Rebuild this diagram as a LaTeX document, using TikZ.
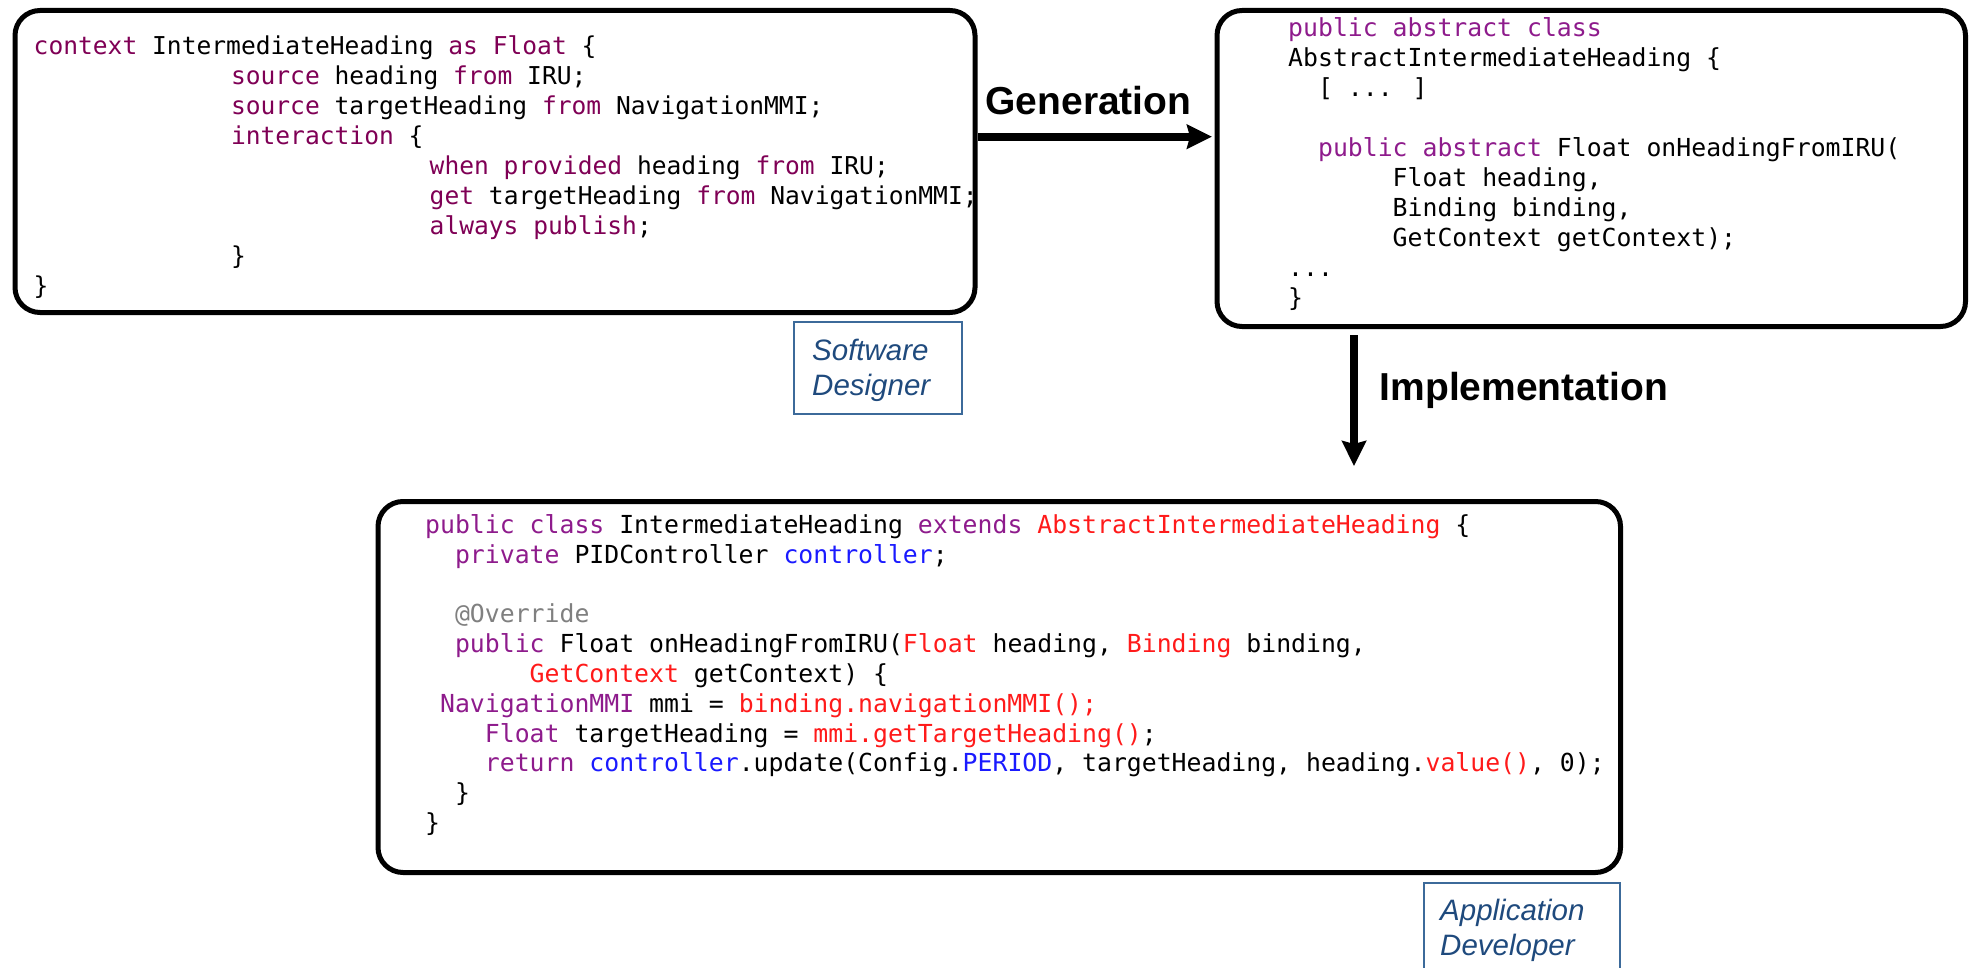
\documentclass[tikz,border=0pt]{standalone}
\usepackage{fontspec}
\setmainfont{Liberation Sans}
\newfontfamily\codefont{DejaVu Sans Mono}
\usetikzlibrary{arrows.meta}

\definecolor{kwctx}{HTML}{7F0055}
\definecolor{kwjava}{HTML}{8E1B8C}
\definecolor{jred}{HTML}{FF1A1A}
\definecolor{jblue}{HTML}{1A1AFF}
\definecolor{jgray}{HTML}{808080}
\definecolor{roleline}{HTML}{3C6A9A}
\definecolor{roletext}{HTML}{1F4A7D}

% monospaced code: one \codeln per line, fixed line pitch
\newlength\chw
\newcommand\ind[1]{\hspace*{#1\chw}}
\newcommand\codeblock[3]{\vtop{\codefont\fontsize{#1}{#2}\selectfont
  \settowidth\chw{x}\baselineskip=#2\lineskiplimit=-1000pt\lineskip=0pt #3}}
\newcommand\codeln[1]{\hbox{#1}}
\newcommand\kc[1]{\textcolor{kwctx}{#1}}
\newcommand\kj[1]{\textcolor{kwjava}{#1}}
\newcommand\jr[1]{\textcolor{jred}{#1}}
\newcommand\jb[1]{\textcolor{jblue}{#1}}
\newcommand\jg[1]{\textcolor{jgray}{#1}}
\newcommand\twolines[2]{\vtop{\baselineskip=35pt\hbox{#1}\hbox{#2}}}

\begin{document}
\begin{tikzpicture}[x=1pt,y=-1pt,
  codebox/.style={draw, line width=5pt, rounded corners=25pt, inner sep=0pt, anchor=north west},
  code/.style={inner sep=0pt, anchor=base west},
  rolebox/.style={draw=roleline, line width=2.2pt, inner sep=0pt, anchor=north west},
  roletxt/.style={text=roletext, font=\itshape\fontsize{29.5pt}{35pt}\selectfont, inner sep=0pt, anchor=base west},
  steplabel/.style={font=\bfseries\fontsize{39pt}{41pt}\selectfont, inner sep=0pt},
  flow/.style={line width=8pt, -{Stealth[length=25pt, width=24pt, inset=3pt]}}]
\useasboundingbox (0,0) rectangle (1975,968);
\clip (0,0) rectangle (1975,968);

% frames
\node[codebox, minimum width=960, minimum height=302] (b1) at (12.5,8) {};
\node[codebox, minimum width=748.5, minimum height=316] (b2) at (1214.5,8) {};
\node[codebox, minimum width=1242.5, minimum height=371] (b3) at (375.5,499) {};

% context definition
\node[code] (c1) at (33.5,55) {\codeblock{24.6pt}{30pt}{%
\codeln{\kc{context} IntermediateHeading \kc{as Float} \{}
\codeln{\hspace*{197.3pt}\kc{source} heading \kc{from} IRU;}
\codeln{\hspace*{197.3pt}\kc{source} targetHeading \kc{from} NavigationMMI;}
\codeln{\hspace*{197.3pt}\kc{interaction} \{}
\codeln{\hspace*{396pt}\kc{when provided} heading \kc{from} IRU;}
\codeln{\hspace*{396pt}\kc{get} targetHeading \kc{from} NavigationMMI;}
\codeln{\hspace*{396pt}\kc{always publish};}
\codeln{\hspace*{197.3pt}\}}
\codeln{\}}}};

% generated abstract class
\node[code] (c2) at (1288,36.5) {\codeblock{24.8pt}{30pt}{%
\codeln{\kj{public abstract class}}
\codeln{AbstractIntermediateHeading \{}
\codeln{\ind{2}[ ... ]}
\codeln{}
\codeln{\ind{2}\kj{public abstract} Float onHeadingFromIRU(}
\codeln{\ind{7}Float heading,}
\codeln{\ind{7}Binding binding,}
\codeln{\ind{7}GetContext getContext);}
\codeln{...}
\codeln{\}}}};

% hand-written implementation
\node[code] (c3) at (425,533.5) {\codeblock{24.8pt}{29.8pt}{%
\codeln{\kj{public class} IntermediateHeading \kj{extends} \jr{AbstractIntermediateHeading} \{}
\codeln{\ind{2}\kj{private} PIDController \jb{controller};}
\codeln{}
\codeln{\ind{2}\jg{@Override}}
\codeln{\ind{2}\kj{public} Float onHeadingFromIRU(\jr{Float} heading, \jr{Binding} binding,}
\codeln{\ind{7}\jr{GetContext} getContext) \{}
\codeln{\ind{1}\kj{NavigationMMI} mmi = \jr{binding.navigationMMI();}}
\codeln{\ind{4}\kj{Float} targetHeading = \jr{mmi.getTargetHeading()};}
\codeln{\ind{4}\kj{return} \jb{controller}.update(Config.\jb{PERIOD}, targetHeading, heading.\jr{value()}, 0);}
\codeln{\ind{2}\}}
\codeln{\}}}};

% roles
\node[rolebox, minimum width=168, minimum height=92] (sd) at (792.5,320.5) {};
\node[roletxt] (sdt) at (812,360) {\twolines{Software}{Designer}};
\node[rolebox, minimum width=196.5, minimum height=110] (ad) at (1422.5,881.5) {};
\node[roletxt] (adt) at (1440,920) {\twolines{Application}{Developer}};

% steps
\node[steplabel, anchor=base] (gen) at (1088.5,115) {Generation};
\node[steplabel, anchor=base west] (impl) at (1379.5,400) {Implementation};
\coordinate (genlevel) at (0,136.7);
\coordinate (implend) at (1354,466);
\draw[flow, shorten >=2.5pt] (b1.east |- genlevel) -- (b2.west |- genlevel);
\draw[flow, shorten <=6pt] (b2.south -| implend) -- (implend);
\end{tikzpicture}
\end{document}
